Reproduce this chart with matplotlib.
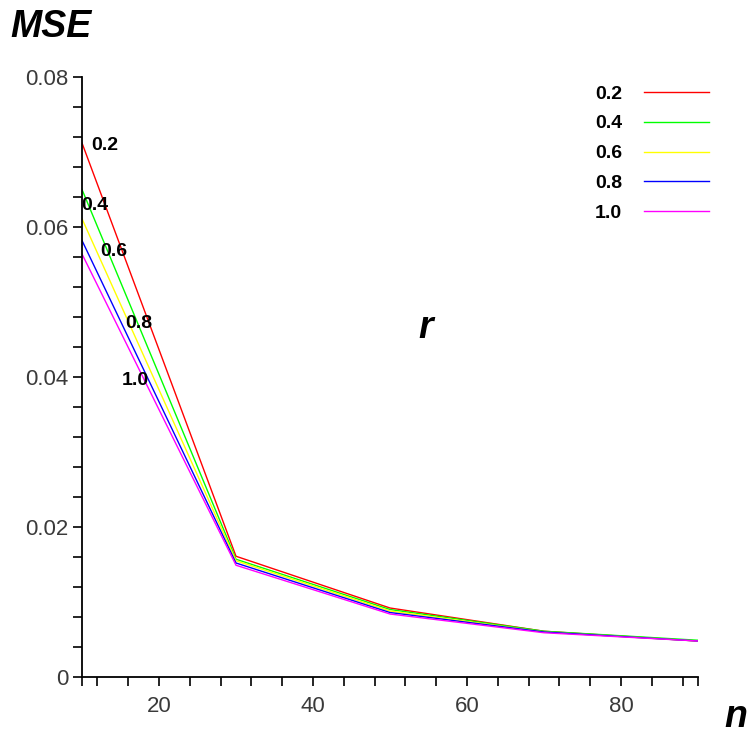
import matplotlib
matplotlib.use('Agg')
import matplotlib.pyplot as plt
from matplotlib.ticker import FixedLocator, FuncFormatter

plt.rcParams['font.family'] = ['Liberation Sans', 'DejaVu Sans']

# sample sizes and MSE for each r
n_vals = [10, 30, 50, 70, 90]
r_labels = ['0.2', '0.4', '0.6', '0.8', '1.0']
mse_02 = [0.0712, 0.0161, 0.0092, 0.0061, 0.0048]
mse_04 = [0.0650, 0.0157, 0.0090, 0.0061, 0.0049]
mse_06 = [0.0611, 0.0155, 0.0088, 0.0060, 0.0048]
mse_08 = [0.0582, 0.0152, 0.0086, 0.0060, 0.0048]
mse_10 = [0.0564, 0.0149, 0.0084, 0.0059, 0.0048]
series = [mse_02, mse_04, mse_06, mse_08, mse_10]
colors = ['#ff0000', '#00ff00', '#ffff00', '#0000ff', '#ff00ff']

# in-plot labels next to the curves (n, MSE)
label_pos = [(11.2, 0.0709), (9.9, 0.0629), (12.4, 0.0568), (15.6, 0.0471), (15.1, 0.0395)]

fig = plt.figure(figsize=(7.55, 7.34), dpi=100)
ax = fig.add_axes([82/755, 57/734, 616/755, 600/734])

for vals, col, lab in zip(series, colors, r_labels):
    ax.plot(n_vals, vals, color=col, linewidth=1.0, label=lab)

for (x, y), lab in zip(label_pos, r_labels):
    ax.text(x, y, lab, fontsize=14, fontweight='bold', ha='left', va='center')

ax.set_xlim(10, 90)
ax.set_ylim(0, 0.08)
for s in ['top', 'right']:
    ax.spines[s].set_visible(False)
for s in ['left', 'bottom']:
    ax.spines[s].set_linewidth(1.3)

ax.xaxis.set_major_locator(FixedLocator([20, 40, 60, 80]))
ax.xaxis.set_minor_locator(FixedLocator([10] + list(range(12, 89, 4)) + [90]))
ax.yaxis.set_major_locator(FixedLocator([0, 0.02, 0.04, 0.06, 0.08]))
ax.yaxis.set_minor_locator(FixedLocator([i * 0.004 for i in range(21)]))
ax.yaxis.set_major_formatter(FuncFormatter(lambda v, p: '0' if v == 0 else f'{v:.2f}'))
ax.tick_params(which='both', direction='out', length=6.5, width=1.2, color='black')
ax.tick_params(axis='x', which='major', labelsize=16, pad=7, labelcolor='#3a3a3a')
ax.tick_params(axis='y', which='major', labelsize=16, pad=3, labelcolor='#3a3a3a')

leg = ax.legend(loc='upper left', bbox_to_anchor=(595/755, (734-85)/734),
                bbox_transform=fig.transFigure, frameon=False, markerfirst=False,
                prop={'weight': 'bold', 'size': 14}, handlelength=3.35,
                handletextpad=1.1, labelspacing=0.63, borderpad=0, borderaxespad=0)

fig.text(10/755, (734-37)/734, 'MSE', fontsize=27, fontweight='bold', style='italic',
         ha='left', va='baseline')
fig.text(418/755, (734-338)/734, 'r', fontsize=27, fontweight='bold', style='italic',
         ha='left', va='baseline')
fig.text(724/755, (734-727)/734, 'n', fontsize=27, fontweight='bold', style='italic',
         ha='left', va='baseline')

fig.savefig('out.png', dpi=100, facecolor='white')
